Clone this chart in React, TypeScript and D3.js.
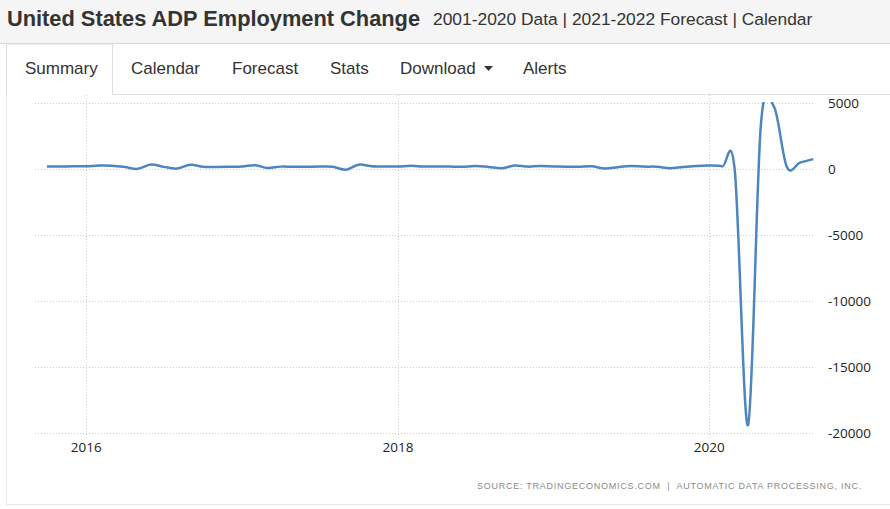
import * as d3 from 'd3'

// ADP employment change, thousands, monthly Oct 2015 – Sep 2020
const startMonth = new Date(2015, 9, 1)
const changeValues = [
  180, 190, 200,
  210, 260, 250, 150, 10, 340, 160, 30, 320, 170, 160, 170,
  190, 290, 70, 180, 170, 170, 180, 170, -60, 330, 200, 190,
  190, 240, 190, 180, 180, 170, 220, 160, 50, 260, 180, 220,
  190, 170, 170, 200, 30, 140, 220, 180, 170, 50, 160, 230,
  260, 200, -150, -19400, 3300, 4700, 150, 480, 750,
]
const yTicks = [5000, 0, -5000, -10000, -15000, -20000]
const xTickYears = [2016, 2018, 2020]
const tabs = ['Summary', 'Calendar', 'Forecast', 'Stats', 'Download', 'Alerts']
const tabX = [25, 131, 232, 330, 400, 523]

const W = 890
const H = 509
const plot = { left: 35, right: 815, top: 103, bottom: 433 }

export default function App() {
  const data = changeValues.map((v, i) => ({
    date: d3.timeMonth.offset(startMonth, i),
    value: v,
  }))

  const x = d3
    .scaleTime()
    .domain([new Date(2015, 8, 3), new Date(2020, 8, 5)])
    .range([plot.left, plot.right])
  const y = d3.scaleLinear().domain([-20000, 5000]).range([plot.bottom, plot.top])

  const line = d3
    .line<{ date: Date; value: number }>()
    .x((d) => x(d.date))
    .y((d) => y(d.value))
    .curve(d3.curveCardinal.tension(0))

  const sans = '"Liberation Sans", Arial, sans-serif'
  const axisFont = '"Open Sans", sans-serif'

  return (
    <div style={{ position: 'fixed', left: 0, top: 0, width: W, height: H, background: '#fff' }}>
      <svg width={W} height={H} style={{ display: 'block' }}>
        <defs>
          <clipPath id="plot-clip">
            <rect x={plot.left} y={plot.top - 1} width={plot.right - plot.left + 4} height={plot.bottom - plot.top + 4} />
          </clipPath>
        </defs>

        {/* header */}
        <rect x={0} y={0} width={W} height={43} fill="#f5f5f5" />
        <line x1={0} x2={W} y1={43.5} y2={43.5} stroke="#d8d8d8" />
        <text x={7} y={26} fontFamily={sans} fontWeight="bold" fontSize={21.8} fill="#333">
          United States ADP Employment Change
        </text>
        <text x={433} y={25} fontFamily={sans} fontSize={17.4} fill="#333">
          2001-2020 Data | 2021-2022 Forecast | Calendar
        </text>

        {/* tabs */}
        <path d="M6.5,95 V44 H112.5 V95" fill="none" stroke="#ddd" />
        <line x1={112} x2={W} y1={94.5} y2={94.5} stroke="#ddd" />
        {tabs.map((t, i) => (
          <text key={t} x={tabX[i]} y={74} fontFamily={sans} fontSize={17} fill="#333">
            {t}
          </text>
        ))}
        <path d="M484,66 L493,66 L488.5,71 Z" fill="#333" />

        {/* chart panel */}
        <path d="M6.5,95 V504.5 H890" fill="none" stroke="#e6e6e6" />

        {/* grid */}
        {yTicks.map((t) => (
          <line
            key={t}
            x1={plot.left}
            x2={plot.right}
            y1={Math.round(y(t)) + 0.5}
            y2={Math.round(y(t)) + 0.5}
            stroke="#ccc"
            strokeDasharray="1,2"
          />
        ))}
        {xTickYears.map((yr) => {
          const px = Math.round(x(new Date(yr, 0, 1))) + 0.5
          return (
            <line key={yr} x1={px} x2={px} y1={95} y2={plot.bottom + 5} stroke="#ccc" strokeDasharray="1,2" />
          )
        })}

        {/* axis labels */}
        {yTicks.map((t) => (
          <text key={t} x={828} y={y(t) + 5} fontFamily={axisFont} fontSize={13.5} fill="#222">
            {t}
          </text>
        ))}
        {xTickYears.map((yr) => (
          <text
            key={yr}
            x={x(new Date(yr, 0, 1))}
            y={452}
            textAnchor="middle"
            fontFamily={axisFont}
            fontSize={13.5}
            fill="#222"
          >
            {yr}
          </text>
        ))}

        {/* series */}
        <path
          d={line(data) ?? ''}
          fill="none"
          stroke="#4d86bd"
          strokeWidth={2.5}
          strokeLinejoin="round"
          clipPath="url(#plot-clip)"
        />

        <text
          x={862}
          y={489}
          textAnchor="end"
          fontFamily={sans}
          fontSize={9}
          letterSpacing={0.75}
          fill="#8a8a8a"
          style={{ whiteSpace: 'pre' }}
        >
          SOURCE: TRADINGECONOMICS.COM  |  AUTOMATIC DATA PROCESSING, INC.
        </text>
      </svg>
    </div>
  )
}
